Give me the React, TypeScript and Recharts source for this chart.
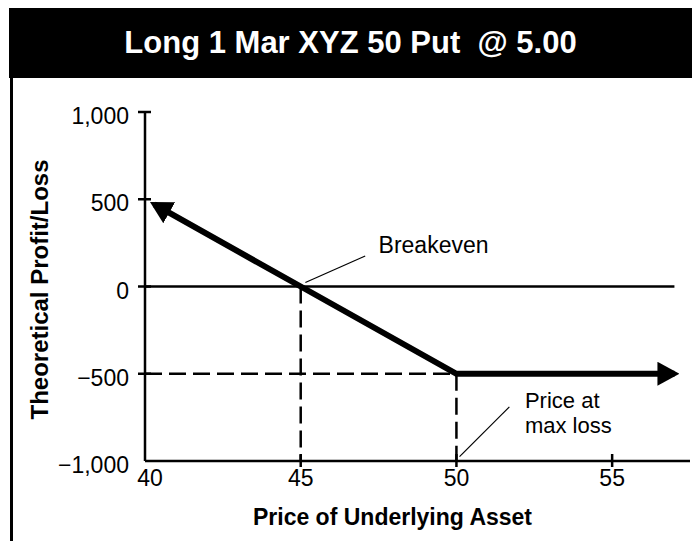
import React from "react";
import { LineChart, Line, XAxis, YAxis, ReferenceLine, ReferenceDot } from "recharts";

// payoff of long 1 Mar XYZ 50 put @ 5.00
const prices = [40.3, 45, 50, 57];
const profitLoss = [470, 0, -500, -500];

const priceTicks = [40, 45, 50, 55];
const plTicks = [-1000, -500, 0, 500, 1000];

const strike = 50;
const breakeven = 45;
const maxLoss = -500;
const zeroLineEnd = 57;

// annotation anchors (price, p/l)
const breakevenLeader = [
  { x: 45.15, y: 23 },
  { x: 47.07, y: 175 },
];
const maxLossLeader = [
  { x: 50.1, y: -975 },
  { x: 51.7, y: -690 },
];
const breakevenText = { x: 47.5, y: 240, text: "Breakeven" };
const maxLossText = { x: 52.2, y: -720, lines: ["Price at", "max loss"] };

const title = "Long 1 Mar XYZ 50 Put  @ 5.00";
const xTitle = "Price of Underlying Asset";
const yTitle = "Theoretical Profit/Loss";

const data = prices.map((p, i) => ({ price: p, pl: profitLoss[i] }));

const FONT = "'Liberation Sans', Arial, Helvetica, sans-serif";

function fmt(v: number) {
  return v.toLocaleString("en-US").replace("-", "\u2212");
}

const YTick = (props: any) => {
  const { x, y, payload } = props;
  const v = payload.value;
  return (
    <g>
      {v !== plTicks[0] && (
        <line x1={x - 7} x2={x + 6} y1={y} y2={y} stroke="#000" strokeWidth={2.5} />
      )}
      <text
        x={x - 16}
        y={y + 4}
        textAnchor="end"
        dominantBaseline="central"
        fontSize={23}
        fontFamily={FONT}
        fill="#000"
      >
        {fmt(v)}
      </text>
    </g>
  );
};

const XTick = (props: any) => {
  const { x, y, payload } = props;
  const v = payload.value;
  return (
    <g>
      {v !== priceTicks[0] && (
        <line x1={x} x2={x} y1={y - 7} y2={y + 6} stroke="#000" strokeWidth={2.5} />
      )}
      <text
        x={v === priceTicks[0] ? x + 5 : x}
        y={y + 17}
        textAnchor="middle"
        dominantBaseline="central"
        fontSize={23}
        fontFamily={FONT}
        fill="#000"
      >
        {v}
      </text>
    </g>
  );
};

export default function App() {
  return (
    <div
      style={{
        position: "absolute",
        left: 0,
        top: 0,
        width: 692,
        height: 541,
        background: "#fff",
        fontFamily: FONT,
      }}
    >
      <svg width={0} height={0} style={{ position: "absolute" }}>
        <defs>
          <marker
            id="arrow"
            viewBox="0 0 22 24"
            refX={17}
            refY={12}
            markerWidth={22}
            markerHeight={24}
            markerUnits="userSpaceOnUse"
            orient="auto-start-reverse"
          >
            <path d="M0,0 L22,12 L0,24 Z" fill="#000" />
          </marker>
        </defs>
      </svg>

      <div
        style={{
          position: "absolute",
          left: 9,
          top: 8,
          width: 683,
          height: 70,
          background: "#000",
          color: "#fff",
          fontWeight: "bold",
          fontSize: 31,
          lineHeight: "70px",
          textAlign: "center",
          whiteSpace: "pre",
          boxSizing: "border-box",
        }}
      >
        {title}
      </div>
      <div
        style={{
          position: "absolute",
          left: 10,
          top: 78,
          width: 2.5,
          height: 463,
          background: "#000",
        }}
      />

      <div style={{ position: "absolute", left: 0, top: 0 }}>
        <LineChart
          width={692}
          height={541}
          data={data}
          margin={{ top: 112, right: 2, bottom: 10, left: 10 }}
        >
          <XAxis
            type="number"
            dataKey="price"
            domain={[40, 57.5]}
            ticks={priceTicks}
            height={70}
            axisLine={{ stroke: "#000", strokeWidth: 2.5 }}
            tickLine={false}
            tickSize={0}
            tickMargin={0}
            tick={<XTick />}
            label={{
              value: xTitle,
              content: (p: any) => (
                <text
                  x={p.viewBox.x + p.viewBox.width / 2 - 25}
                  y={p.viewBox.y + 56}
                  textAnchor="middle"
                  dominantBaseline="central"
                  fontSize={23}
                  fontWeight="bold"
                  fontFamily={FONT}
                  fill="#000"
                >
                  {xTitle}
                </text>
              ),
            }}
          />
          <YAxis
            type="number"
            domain={[-1000, 1000]}
            ticks={plTicks}
            width={135}
            axisLine={{ stroke: "#000", strokeWidth: 2.5 }}
            tickLine={false}
            tickSize={0}
            tickMargin={0}
            tick={<YTick />}
            label={{
              value: yTitle,
              content: (p: any) => {
                const cx = p.viewBox.x + 29;
                const cy = p.viewBox.y + p.viewBox.height / 2 + 3;
                return (
                  <text
                    x={cx}
                    y={cy}
                    transform={`rotate(-90, ${cx}, ${cy})`}
                    textAnchor="middle"
                    dominantBaseline="central"
                    fontSize={24}
                    fontWeight="bold"
                    fontFamily={FONT}
                    fill="#000"
                  >
                    {yTitle}
                  </text>
                );
              },
            }}
          />

          <ReferenceLine
            segment={[
              { x: priceTicks[0], y: 0 },
              { x: zeroLineEnd, y: 0 },
            ]}
            stroke="#000"
            strokeWidth={2.5}
          />
          <ReferenceLine
            segment={[
              { x: priceTicks[0], y: maxLoss },
              { x: strike, y: maxLoss },
            ]}
            stroke="#000"
            strokeWidth={2.5}
            strokeDasharray="17 7"
          />
          <ReferenceLine
            segment={[
              { x: breakeven, y: 0 },
              { x: breakeven, y: plTicks[0] },
            ]}
            stroke="#000"
            strokeWidth={2.5}
            strokeDasharray="17 7"
          />
          <ReferenceLine
            segment={[
              { x: strike, y: maxLoss },
              { x: strike, y: plTicks[0] },
            ]}
            stroke="#000"
            strokeWidth={2.5}
            strokeDasharray="17 7"
          />
          <ReferenceLine segment={breakevenLeader} stroke="#000" strokeWidth={1.2} />
          <ReferenceLine segment={maxLossLeader} stroke="#000" strokeWidth={1.2} />

          <ReferenceDot
            x={breakevenText.x}
            y={breakevenText.y}
            r={0}
            fill="none"
            stroke="none"
            label={{
              value: breakevenText.text,
              content: (p: any) => (
                <text
                  x={p.viewBox.x}
                  y={p.viewBox.y}
                  dominantBaseline="central"
                  fontSize={23}
                  fontFamily={FONT}
                  fill="#000"
                >
                  {breakevenText.text}
                </text>
              ),
            }}
          />
          <ReferenceDot
            x={maxLossText.x}
            y={maxLossText.y}
            r={0}
            fill="none"
            stroke="none"
            label={{
              value: maxLossText.lines.join(" "),
              content: (p: any) => (
                <g>
                  <text
                    x={p.viewBox.x}
                    y={p.viewBox.y - 12}
                    dominantBaseline="central"
                    fontSize={22}
                    fontFamily={FONT}
                    fill="#000"
                  >
                    {maxLossText.lines[0]}
                  </text>
                  <text
                    x={p.viewBox.x}
                    y={p.viewBox.y + 13}
                    dominantBaseline="central"
                    fontSize={22}
                    fontFamily={FONT}
                    fill="#000"
                  >
                    {maxLossText.lines[1]}
                  </text>
                </g>
              ),
            }}
          />

          <Line
            type="linear"
            dataKey="pl"
            stroke="#000"
            strokeWidth={6}
            dot={false}
            activeDot={false}
            markerStart="url(#arrow)"
            markerEnd="url(#arrow)"
            isAnimationActive={false}
          />
        </LineChart>
      </div>
    </div>
  );
}
